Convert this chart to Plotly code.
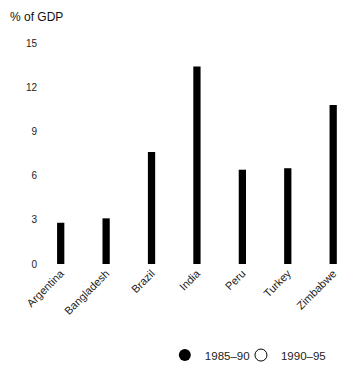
import plotly.graph_objects as go

countries = ["Argentina", "Bangladesh", "Brazil", "India", "Peru", "Turkey", "Zimbabwe"]
values_8590 = [2.8, 3.1, 7.6, 13.4, 6.4, 6.5, 10.8]
values_9095 = [None, None, None, None, None, None, None]
y_ticks = [0, 3, 6, 9, 12, 15]

fig = go.Figure()
fig.add_trace(go.Bar(x=countries, y=values_8590, name="1985–90", showlegend=False,
                     marker=dict(color="black", line=dict(color="black", width=0)),
                     width=0.16))
fig.add_trace(go.Bar(x=countries, y=values_9095, name="1990–95", showlegend=False,
                     marker=dict(color="white", line=dict(color="black", width=1)),
                     width=0.16))
# legend entries (circle symbols as in the reference key)
fig.add_trace(go.Scatter(x=[None], y=[None], mode="markers", name="1985–90",
                         legend="legend",
                         marker=dict(symbol="circle", size=12, color="black")))
fig.add_trace(go.Scatter(x=[None], y=[None], mode="markers", name="1990–95",
                         legend="legend2",
                         marker=dict(symbol="circle-open", size=12, color="black",
                                     line=dict(width=1))))

leg_common = dict(orientation="h", y=-0.412, xanchor="left", yanchor="middle",
                  font=dict(size=11.5), bgcolor="rgba(0,0,0,0)")

fig.update_layout(
    width=340, height=372,
    margin=dict(l=38, r=0, t=43, b=108, autoexpand=False),
    paper_bgcolor="white", plot_bgcolor="white",
    barmode="overlay",
    font=dict(family="Liberation Sans, Arial, sans-serif", color="#222", size=11),
    showlegend=True,
    legend=dict(x=0.42, **leg_common),
    legend2=dict(x=0.672, **leg_common),
    xaxis=dict(range=[-0.5, 6.15], tickangle=-45, showline=False, showgrid=False,
               ticks="", tickfont=dict(size=11)),
    yaxis=dict(range=[0, 15], tickvals=y_ticks, showline=False, showgrid=False,
               zeroline=False, ticks="", tickfont=dict(size=10)),
    annotations=[dict(text="% of GDP", xref="paper", yref="paper", x=-30/302, y=1.0,
                      yshift=26, xanchor="left", yanchor="middle", showarrow=False,
                      font=dict(size=12, color="#111"))],
)

fig.write_html("out.html",
               config={"displayModeBar": False},
               post_script="document.body.style.margin='0';"
                           "document.body.style.overflow='hidden';")
